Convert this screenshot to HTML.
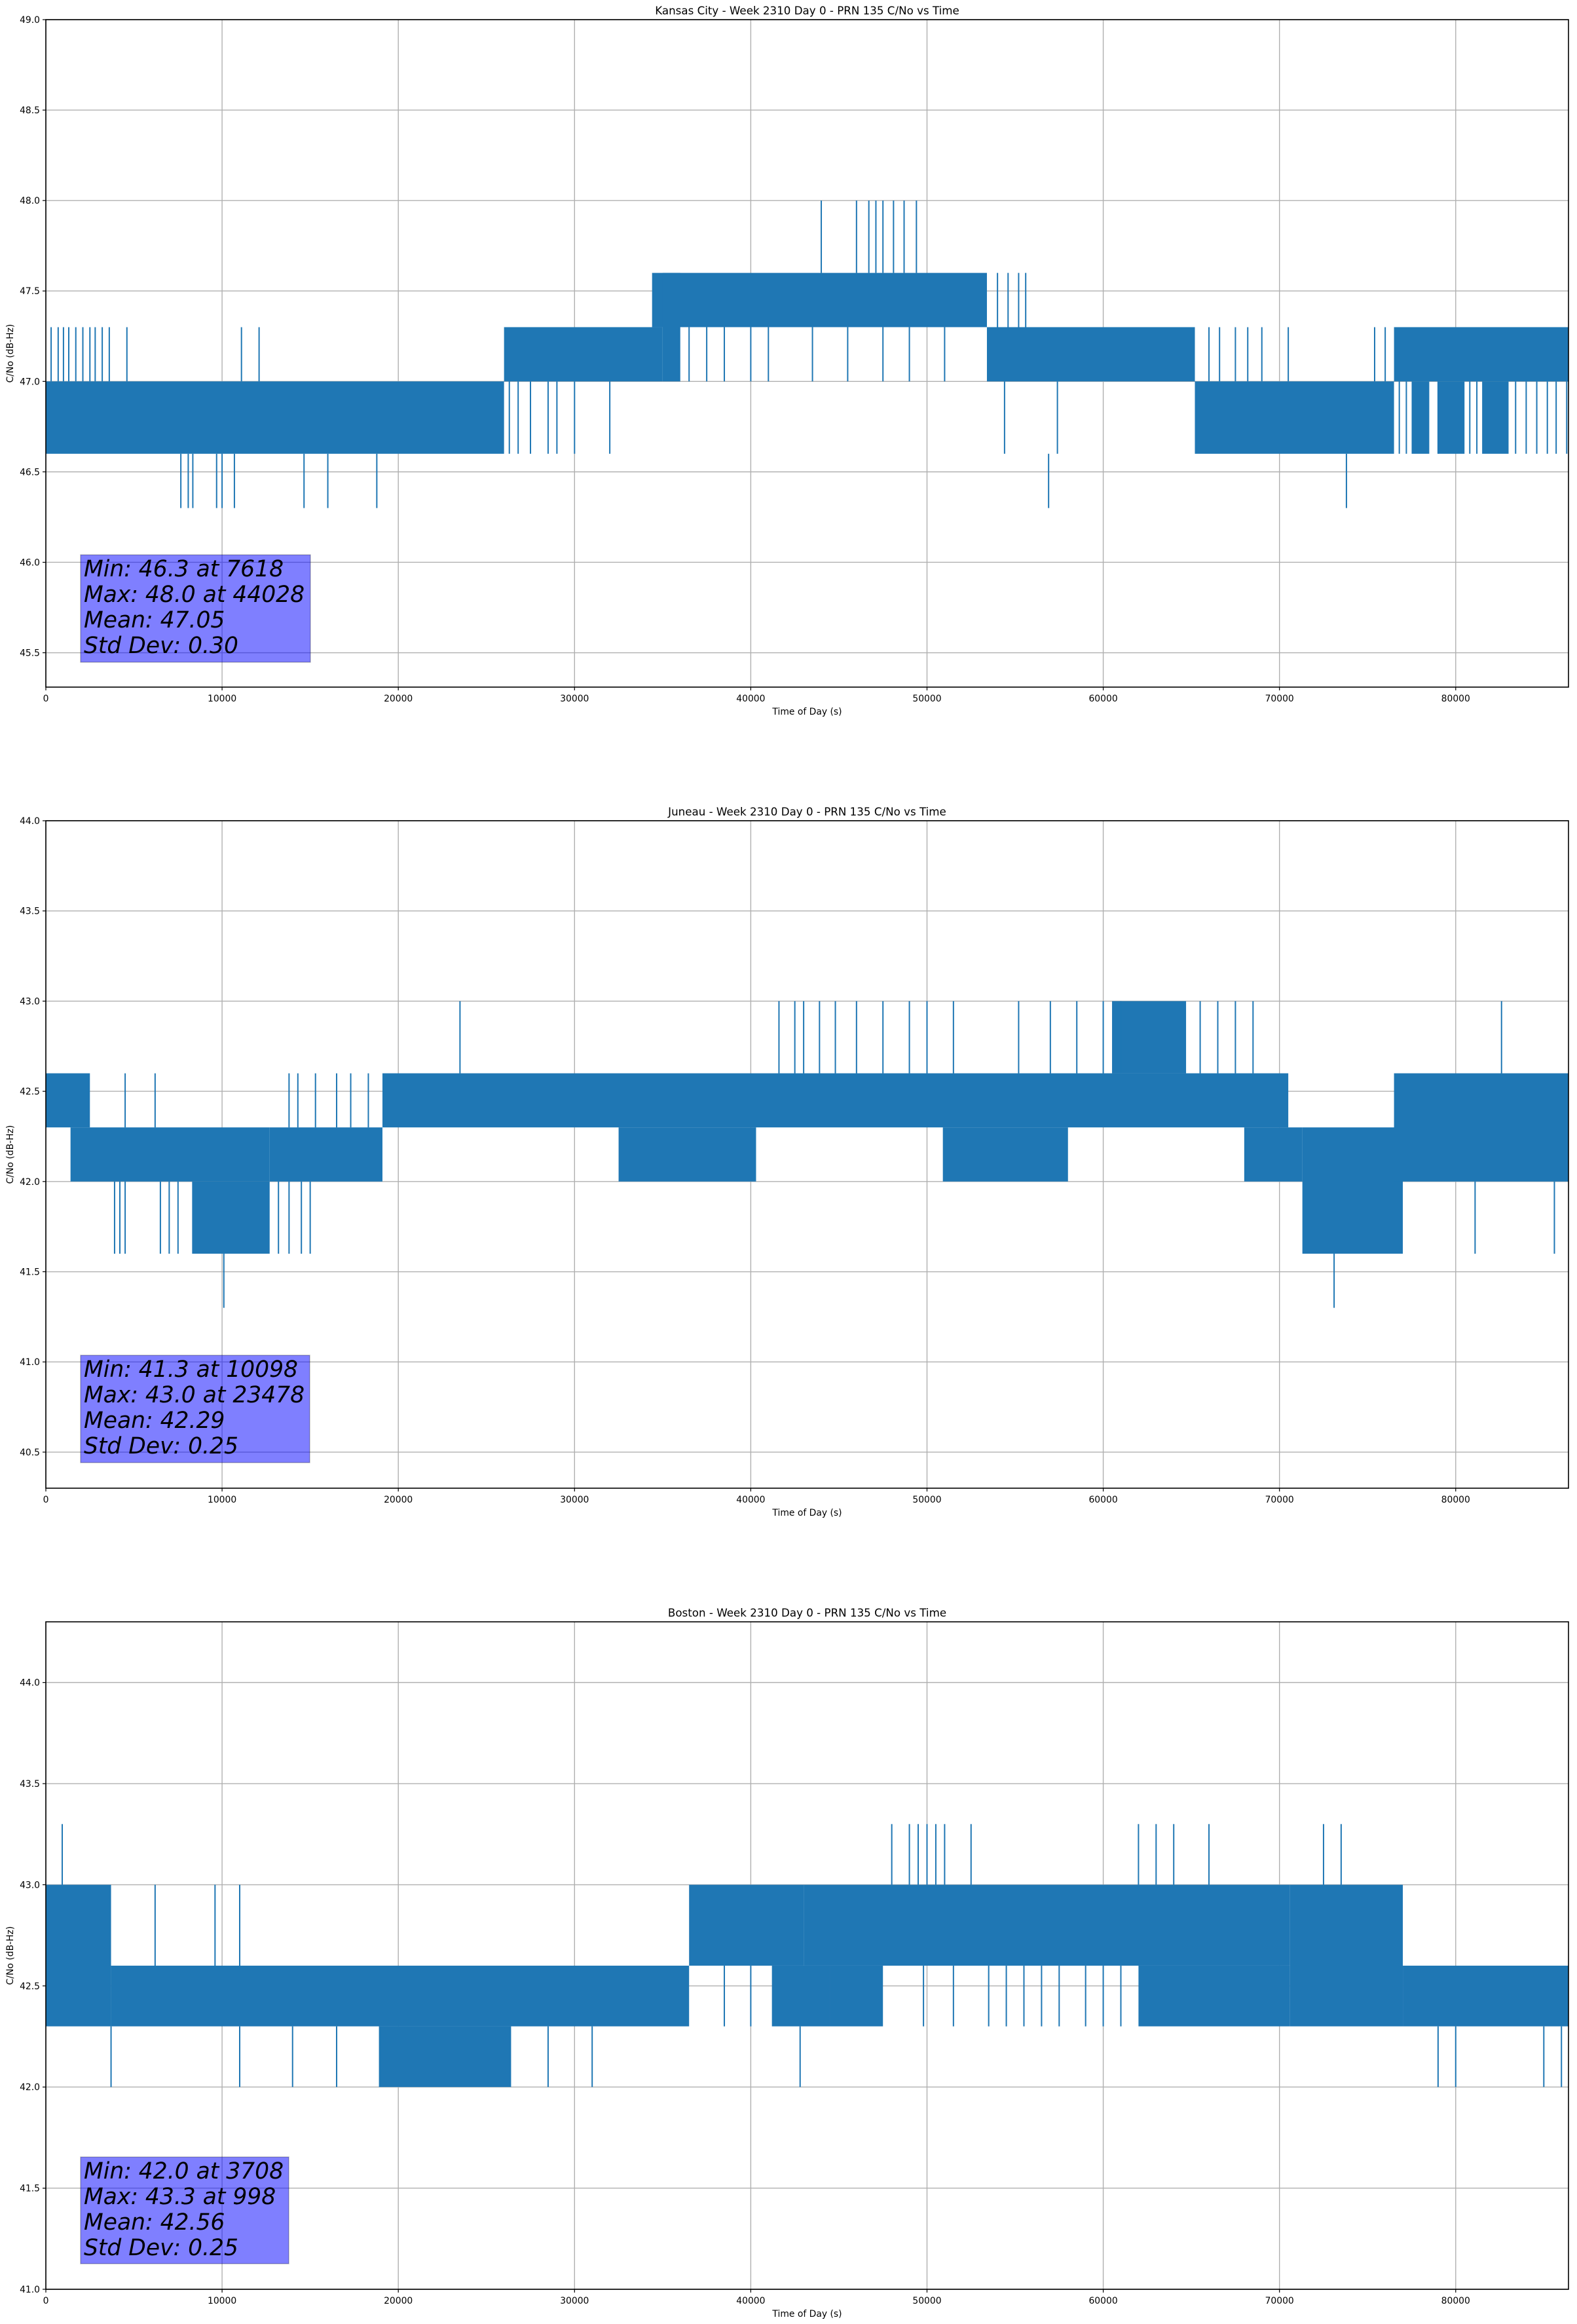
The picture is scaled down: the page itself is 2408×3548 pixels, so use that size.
<!DOCTYPE html>
<html><head><meta charset="utf-8">
<style>
html,body{margin:0;padding:0;background:#fff;}
svg{display:block;font-family:"DejaVu Sans","Liberation Sans",sans-serif;}
</style></head>
<body>
<svg id="chart" width="2408" height="3548" viewBox="0 0 2408 3548" xmlns="http://www.w3.org/2000/svg"></svg>
<script>
// ---------- data ----------
const xTicks = [0,10000,20000,30000,40000,50000,60000,70000,80000];
const titles = ["Kansas City - Week 2310 Day 0 - PRN 135 C/No vs Time",
                "Juneau - Week 2310 Day 0 - PRN 135 C/No vs Time",
                "Boston - Week 2310 Day 0 - PRN 135 C/No vs Time"];
const yTicks1 = [45.5,46.0,46.5,47.0,47.5,48.0,48.5,49.0];
const yTicks2 = [40.5,41.0,41.5,42.0,42.5,43.0,43.5,44.0];
const yTicks3 = [41.0,41.5,42.0,42.5,43.0,43.5,44.0];
const stats1 = ["Min: 46.3 at 7618","Max: 48.0 at 44028","Mean: 47.05","Std Dev: 0.30"];
const stats2 = ["Min: 41.3 at 10098","Max: 43.0 at 23478","Mean: 42.29","Std Dev: 0.25"];
const stats3 = ["Min: 42.0 at 3708","Max: 43.3 at 998","Mean: 42.56","Std Dev: 0.25"];

// Kansas City bands (start time, end time, low value, high value)
const p1BandT0 = [0,26000,34400,35000,53400,65200,76500,77500,79000,81500];
const p1BandT1 = [26000,35000,53400,36000,65200,76500,86400,78500,80500,83000];
const p1BandLo = [46.6,47.0,47.3,47.0,47.0,46.6,47.0,46.6,46.6,46.6];
const p1BandHi = [47.0,47.3,47.6,47.6,47.3,47.0,47.3,47.0,47.0,47.0];
// Kansas City spikes (time, from, to)
const p1SpikeT  = [300,700,1000,1300,1700,2100,2500,2800,3200,3600,4600,11100,12100,66000,66600,67500,68200,69000,70500,75400,76000,
                   7660,8080,8340,9690,10000,10700,14650,16000,18780,56900,73800,
                   26300,26800,27500,28500,29000,30000,32000,54400,57400,
                   36500,37500,38500,40000,41000,43500,45500,47500,49000,51000,
                   44000,46000,46700,47100,47500,48100,48700,49400,
                   54000,54600,55200,55600,
                   76800,77200,79000,80800,81200,83400,84000,84600,85200,85700,86300];
const p1SpikeLo = [47.0,47.0,47.0,47.0,47.0,47.0,47.0,47.0,47.0,47.0,47.0,47.0,47.0,47.0,47.0,47.0,47.0,47.0,47.0,47.0,47.0,
                   46.3,46.3,46.3,46.3,46.3,46.3,46.3,46.3,46.3,46.3,46.3,
                   46.6,46.6,46.6,46.6,46.6,46.6,46.6,46.6,46.6,
                   47.0,47.0,47.0,47.0,47.0,47.0,47.0,47.0,47.0,47.0,
                   47.6,47.6,47.6,47.6,47.6,47.6,47.6,47.6,
                   47.3,47.3,47.3,47.3,
                   46.6,46.6,46.6,46.6,46.6,46.6,46.6,46.6,46.6,46.6,46.6];
const p1SpikeHi = [47.3,47.3,47.3,47.3,47.3,47.3,47.3,47.3,47.3,47.3,47.3,47.3,47.3,47.3,47.3,47.3,47.3,47.3,47.3,47.3,47.3,
                   46.6,46.6,46.6,46.6,46.6,46.6,46.6,46.6,46.6,46.6,46.6,
                   47.0,47.0,47.0,47.0,47.0,47.0,47.0,47.0,47.0,
                   47.3,47.3,47.3,47.3,47.3,47.3,47.3,47.3,47.3,47.3,
                   48.0,48.0,48.0,48.0,48.0,48.0,48.0,48.0,
                   47.6,47.6,47.6,47.6,
                   47.0,47.0,47.0,47.0,47.0,47.0,47.0,47.0,47.0,47.0,47.0];

// Juneau bands
const p2BandT0 = [0,1400,8300,12700,19100,32500,50900,60500,68000,71300,76500];
const p2BandT1 = [2500,12700,12700,19100,70500,40300,58000,64700,71300,77000,86400];
const p2BandLo = [42.3,42.0,41.6,42.0,42.3,42.0,42.0,42.6,42.0,41.6,42.0];
const p2BandHi = [42.6,42.3,42.0,42.3,42.6,42.3,42.3,43.0,42.3,42.3,42.6];
// Juneau spikes
const p2SpikeT  = [23500,41600,42500,43000,43900,44800,46000,47500,49000,50000,51500,55200,57000,58500,60000,61000,65500,66500,67500,68500,82600,
                   3900,4200,4500,6500,7000,7500,13200,13800,14500,15000,
                   10100,73100,81100,85600,
                   4500,6200,13800,14300,15300,16500,17300,18300];
const p2SpikeLo = [42.6,42.6,42.6,42.6,42.6,42.6,42.6,42.6,42.6,42.6,42.6,42.6,42.6,42.6,42.6,42.6,42.6,42.6,42.6,42.6,42.6,
                   41.6,41.6,41.6,41.6,41.6,41.6,41.6,41.6,41.6,41.6,
                   41.3,41.3,41.6,41.6,
                   42.3,42.3,42.3,42.3,42.3,42.3,42.3,42.3];
const p2SpikeHi = [43.0,43.0,43.0,43.0,43.0,43.0,43.0,43.0,43.0,43.0,43.0,43.0,43.0,43.0,43.0,43.0,43.0,43.0,43.0,43.0,43.0,
                   42.0,42.0,42.0,42.0,42.0,42.0,42.0,42.0,42.0,42.0,
                   41.6,41.6,42.0,42.0,
                   42.6,42.6,42.6,42.6,42.6,42.6,42.6,42.6];

// Boston bands
const p3BandT0 = [0,3700,18900,36500,41200,43000,44500,62000,70600,77000];
const p3BandT1 = [3700,36500,26400,43000,44500,70600,47500,70600,77000,86400];
const p3BandLo = [42.3,42.3,42.0,42.6,42.3,42.6,42.3,42.3,42.3,42.3];
const p3BandHi = [43.0,42.6,42.3,43.0,42.6,43.0,42.6,42.6,43.0,42.6];
// Boston spikes
const p3SpikeT  = [930,48000,49000,49500,50000,50500,51000,52500,62000,63000,64000,66000,72500,73500,
                   6200,9600,11000,
                   3700,11000,14000,16500,28500,31000,42800,79000,80000,85000,86000,
                   38500,40000,49800,51500,53500,54500,55500,56500,57500,59000,60000,61000];
const p3SpikeLo = [43.0,43.0,43.0,43.0,43.0,43.0,43.0,43.0,43.0,43.0,43.0,43.0,43.0,43.0,
                   42.6,42.6,42.6,
                   42.0,42.0,42.0,42.0,42.0,42.0,42.0,42.0,42.0,42.0,42.0,
                   42.3,42.3,42.3,42.3,42.3,42.3,42.3,42.3,42.3,42.3,42.3,42.3];
const p3SpikeHi = [43.3,43.3,43.3,43.3,43.3,43.3,43.3,43.3,43.3,43.3,43.3,43.3,43.3,43.3,
                   43.0,43.0,43.0,
                   42.3,42.3,42.3,42.3,42.3,42.3,42.3,42.3,42.3,42.3,42.3,
                   42.6,42.6,42.6,42.6,42.6,42.6,42.6,42.6,42.6,42.6,42.6,42.6];

// ---------- rendering ----------
const NS = "http://www.w3.org/2000/svg";
const svg = document.getElementById("chart");
const X0 = 70, X1 = 2395, XMAX = 86400;
const BLUE = "#1f77b4";
function mk(tag, attrs, parent){
  const e = document.createElementNS(NS, tag);
  for (const k in attrs) e.setAttribute(k, attrs[k]);
  (parent||svg).appendChild(e);
  return e;
}
const panels = [
  {top:30, bot:1049, ymin:45.31, ymax:49.0, yt:yTicks1, stats:stats1, box:[123,847,474,1011],
   bT0:p1BandT0,bT1:p1BandT1,bLo:p1BandLo,bHi:p1BandHi,sT:p1SpikeT,sLo:p1SpikeLo,sHi:p1SpikeHi},
  {top:1253, bot:2272, ymin:40.3, ymax:44.0, yt:yTicks2, stats:stats2, box:[123,2069,473,2233],
   bT0:p2BandT0,bT1:p2BandT1,bLo:p2BandLo,bHi:p2BandHi,sT:p2SpikeT,sLo:p2SpikeLo,sHi:p2SpikeHi},
  {top:2476, bot:3495, ymin:41.0, ymax:44.3, yt:yTicks3, stats:stats3, box:[123,3293,441,3456],
   bT0:p3BandT0,bT1:p3BandT1,bLo:p3BandLo,bHi:p3BandHi,sT:p3SpikeT,sLo:p3SpikeLo,sHi:p3SpikeHi}
];
panels.forEach((p, i) => {
  const g = mk("g", {});
  
  
  const xs = v => X0 + (v / XMAX) * (X1 - X0);
  const ys = v => p.bot - (v - p.ymin) / (p.ymax - p.ymin) * (p.bot - p.top);
  xTicks.forEach(t => {
    const l = mk("line", {x1:xs(t), x2:xs(t), y1:p.top, y2:p.bot, stroke:"#b0b0b0", "stroke-width":1.4}, g);
    
    
  });
  p.yt.forEach(t => {
    const l = mk("line", {x1:X0, x2:X1, y1:ys(t), y2:ys(t), stroke:"#b0b0b0", "stroke-width":1.4}, g);
    
    
  });
  const sg = mk("g", {}, g);
  
  
  p.bT0.forEach((t0, k) => {
    const x0 = xs(t0), x1 = xs(p.bT1[k]);
    const r = mk("rect", {x:x0, y:ys(p.bHi[k]), width:Math.max(1.5, x1 - x0), height:ys(p.bLo[k]) - ys(p.bHi[k]), fill:BLUE}, sg);
    
    
  });
  p.sT.forEach((t, k) => {
    const l = mk("line", {x1:xs(t), x2:xs(t), y1:ys(p.sLo[k]), y2:ys(p.sHi[k]), stroke:BLUE, "stroke-width":2}, sg);
    
    
  });
  const fr = mk("rect", {x:X0, y:p.top, width:X1 - X0, height:p.bot - p.top, fill:"none", stroke:"#000", "stroke-width":1.6}, g);
  
  
  xTicks.forEach(t => {
    mk("line", {x1:xs(t), x2:xs(t), y1:p.bot, y2:p.bot + 5, stroke:"#000", "stroke-width":1.2}, g);
    const tx = mk("text", {x:xs(t), y:p.bot + 22, "font-size":13.9, "text-anchor":"middle", fill:"#000"}, g);
    tx.textContent = t;
    
    
  });
  p.yt.forEach(t => {
    mk("line", {x1:X0 - 5, x2:X0, y1:ys(t), y2:ys(t), stroke:"#000", "stroke-width":1.2}, g);
    const tx = mk("text", {x:X0 - 9, y:ys(t) + 5, "font-size":13.9, "text-anchor":"end", fill:"#000"}, g);
    tx.textContent = t.toFixed(1);
    
    
  });
  const tt = mk("text", {x:(X0 + X1) / 2, y:p.top - 8, "font-size":16.7, "text-anchor":"middle", fill:"#000"}, g);
  tt.textContent = titles[i];
  
  
  const xl = mk("text", {x:(X0 + X1) / 2, y:p.bot + 42, "font-size":13.9, "text-anchor":"middle", fill:"#000"}, g);
  xl.textContent = "Time of Day (s)";
  
  
  const cy = (p.top + p.bot) / 2;
  const yl = mk("text", {x:20, y:cy, "font-size":13.9, "text-anchor":"middle", fill:"#000", transform:"rotate(-90 20 " + cy + ")"}, g);
  yl.textContent = "C/No (dB-Hz)";
  
  
  const b = p.box;
  const br = mk("rect", {x:b[0], y:b[1], width:b[2] - b[0], height:b[3] - b[1], fill:"rgba(0,0,255,0.5)", stroke:"rgba(0,0,0,0.25)", "stroke-width":1.5}, g);
  
  
  p.stats.forEach((s, k) => {
    const tx = mk("text", {x:b[0] + 5, y:b[1] + 33 + k * 39, "font-size":34.5, "font-style":"italic", fill:"#000"}, g);
    tx.textContent = s;
    
    
  });
});
</script>
</body></html>
